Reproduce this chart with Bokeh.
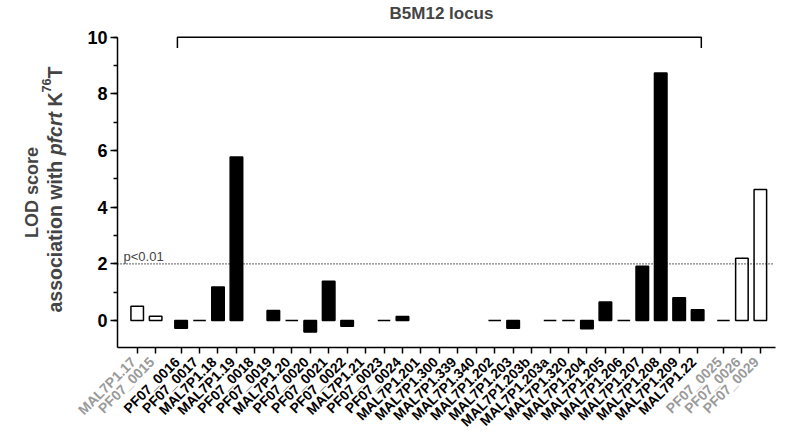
import math
from bokeh.plotting import figure
from bokeh.models import (Range1d, ColumnDataSource, Label, LinearAxis,
                          FixedTicker, SingleIntervalTicker)
from bokeh.core.properties import value
from bokeh.embed import file_html
from bokeh.resources import INLINE

# ---------------- data ----------------
genes = ["MAL7P1.17", "PF07_0015", "PF07_0016", "PF07_0017", "MAL7P1.18",
         "MAL7P1.19", "PF07_0018", "PF07_0019", "MAL7P1.20", "PF07_0020",
         "PF07_0021", "PF07_0022", "MAL7P1.21", "PF07_0023", "PF07_0024",
         "MAL7P1.201", "MAL7P1.300", "MAL7P1.339", "MAL7P1.340", "MAL7P1.202",
         "MAL7P1.203", "MAL7P1.203b", "MAL7P1.203a", "MAL7P1.320", "MAL7P1.204",
         "MAL7P1.205", "MAL7P1.206", "MAL7P1.207", "MAL7P1.208", "MAL7P1.209",
         "MAL7P1.22", "PF07_0025", "PF07_0026", "PF07_0029"]
nan = float("nan")
lod = [0.5, 0.15, -0.27, 0.0, 1.18,
       5.77, nan, 0.35, 0.0, -0.41,
       1.39, -0.2, nan, 0.0, 0.14,
       nan, nan, nan, nan, 0.0,
       -0.27, nan, 0.0, 0.0, -0.29,
       0.65, 0.0, 1.92, 8.74, 0.8,
       0.38, 0.0, 2.2, 4.63]
region = ["flank"] * 2 + ["locus"] * 29 + ["flank"] * 3
threshold = 2.0
threshold_label = "p<0.01"
locus_label = "B5M12 locus"
y_max = 10
y_ticks_interval = 2

# ---------------- layout (frame = whole canvas) ----------------
W, H = 783, 431
SX = 18.447          # px per x unit
SY = 28.32           # px per y unit
X0 = -136.7 / SX
X1 = X0 + W / SX
Y1 = 320.0 / SY
Y0 = Y1 - H / SY


def xd(px):  # canvas pixel -> data x
    return X0 + px / SX


def yd(py):  # canvas pixel -> data y
    return Y1 - py / SY


# x positions: unit spacing with extra gaps between groups
gaps = [0.38, 0.40]
xs = []
off = 0.0
g = 0
for i, r in enumerate(region):
    if i > 0 and r != region[i - 1]:
        off += gaps[g]
        g += 1
    xs.append(i + off)

FONT = "Liberation Sans"

p = figure(width=W, height=H, output_backend="svg", toolbar_location=None,
           x_range=Range1d(X0, X1), y_range=Range1d(Y0, Y1),
           x_axis_location=None, y_axis_location=None,
           min_border=0, background_fill_color="white",
           border_fill_color="white")
p.outline_line_color = None
p.xgrid.visible = False
p.ygrid.visible = False

# bars
bx, btop, bfill = [], [], []
for x, v, r in zip(xs, lod, region):
    if v == v:
        bx.append(x)
        btop.append(v)
        bfill.append("white" if r == "flank" else "black")
src = ColumnDataSource(dict(x=bx, top=btop, fill=bfill))
p.vbar(x="x", top="top", bottom=0, width=0.68, source=src,
       fill_color="fill", line_color="black", line_width=1.5)

# axes (fixed inside the frame)
x_axis_y = yd(347)
y_axis_x = xd(117)

ya = LinearAxis(fixed_location=y_axis_x,
                ticker=SingleIntervalTicker(interval=y_ticks_interval,
                                            num_minor_ticks=2),
                bounds=(x_axis_y, y_max))
ya.axis_line_width = 1.5
ya.major_tick_line_width = 1.5
ya.minor_tick_line_width = 1.5
ya.major_tick_out = 7
ya.major_tick_in = 0
ya.minor_tick_out = 4
ya.minor_tick_in = 0
ya.major_label_standoff = 3
ya.major_label_text_font = FONT
ya.major_label_text_font_size = "18px"
ya.major_label_text_font_style = "bold"
ya.major_label_text_color = "black"
p.add_layout(ya, "left")

xa = LinearAxis(fixed_location=x_axis_y, ticker=FixedTicker(ticks=xs),
                bounds=(y_axis_x, xd(775)))
xa.major_label_overrides = {x: "" for x in xs}
xa.axis_line_width = 1.5
xa.major_tick_line_width = 1.5
xa.major_tick_out = 6
xa.major_tick_in = 0
xa.minor_tick_line_color = None
p.add_layout(xa, "below")

# gene names under the ticks (flanking genes in grey)
lab_src = ColumnDataSource(dict(
    x=[x - 4.0 / SX for x in xs], y=[yd(359)] * len(xs), text=genes,
    color=["#9a9a9a" if r == "flank" else "black" for r in region]))
p.text(x="x", y="y", text="text", source=lab_src, angle=math.radians(45),
       text_align="right", text_baseline="middle", text_color="color",
       text_font=value(FONT), text_font_size="14px",
       text_font_style="bold")

# threshold line (from the y axis to the right end)
locus_pos = [x for x, r in zip(xs, region) if r == "locus"]
p.line([y_axis_x, xd(772)], [threshold, threshold], line_color="black",
       line_width=1.4, line_dash="1 2")
p.add_layout(Label(x=xd(123), y=yd(256), text=threshold_label,
                   text_font=FONT, text_font_size="13px",
                   text_baseline="alphabetic", text_align="left"))

# bracket over locus
bl, br = locus_pos[0] - 0.2, locus_pos[-1] + 0.2
p.line([bl, bl, br, br], [yd(47.5), y_max, y_max, yd(47.5)],
       line_color="black", line_width=1.5)
p.add_layout(Label(x=xd(441), y=yd(12.5), text=locus_label, text_font=FONT,
                   text_font_size="17px", text_font_style="bold",
                   text_align="center", text_baseline="middle"))

# y axis title (two lines, mixed styles)
WID = {"a": 556, "s": 556, "o": 611, "c": 556, "i": 278, "t": 333, "n": 611,
       " ": 278, "w": 778, "h": 611, "p": 611, "f": 333, "r": 389, "K": 722,
       "T": 611, "7": 556, "6": 556, "L": 611, "O": 778, "D": 722, "e": 556}


def tw(s, size):
    return sum(WID[c] for c in s) / 1000.0 * size


F1 = 18
p.add_layout(Label(x=xd(31), y=yd(192), text="LOD score", angle=math.pi / 2,
                   text_font=FONT, text_font_size=f"{F1}px",
                   text_font_style="bold", text_align="center",
                   text_baseline="alphabetic"))

F2 = 19.5
pieces = [("association with ", "bold", F2, 0.0),
          ("pfcrt", "bold italic", F2, 0.0),
          (" K", "bold", F2, 0.0),
          ("76", "bold", 0.65 * F2, 0.40 * F2),
          ("T", "bold", F2, 0.0)]
total = sum(tw(s, sz) for s, _, sz, _ in pieces)
pos = 189 + total / 2.0
base_x = 54
for s, style, sz, rise in pieces:
    lead = len(s) - len(s.lstrip(" "))
    txt = s.strip(" ")
    start = pos - tw(s[:lead], sz)
    p.add_layout(Label(x=xd(base_x - rise), y=yd(start), text=txt,
                       angle=math.pi / 2, text_font=FONT,
                       text_font_size=f"{sz:.1f}px", text_font_style=style,
                       text_align="left", text_baseline="alphabetic"))
    pos -= tw(s, sz)

open("out.html", "w").write(file_html(p, INLINE))
